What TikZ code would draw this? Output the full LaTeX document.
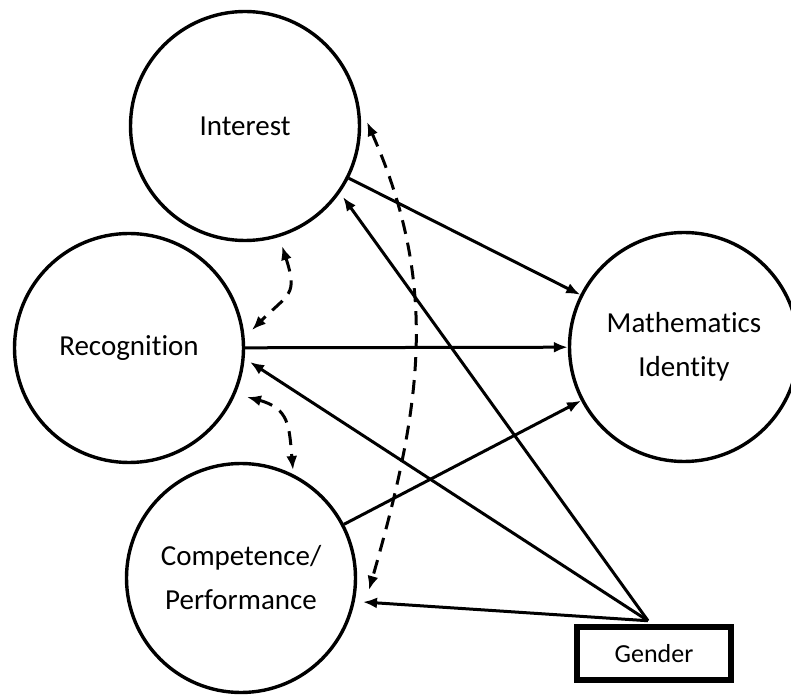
\documentclass[tikz,border=0pt]{standalone}
\usepackage{fontspec}
\setmainfont{Carlito}[Ligatures={NoCommon}]
\usetikzlibrary{arrows.meta}
\begin{document}
\begin{tikzpicture}[x=1pt,y=1pt,
  >={Latex[length=14pt,width=11pt]},
  latent/.style={draw,circle,line width=3.4pt,minimum size=229pt,inner sep=0pt,
    align=center,font=\fontsize{29}{44}\selectfont},
  effect/.style={->,line width=3pt},
  cov/.style={<->,line width=3pt,dash pattern=on 14pt off 9pt},
  gbox/.style={draw,rectangle,line width=6.5pt,minimum width=154pt,
    minimum height=53pt,inner sep=0pt,font=\fontsize{26}{30}\selectfont}]
\clip (0,0) rectangle (791,696);
\fill[white] (0,0) rectangle (791,696);

\node[latent] (I) at (245,570) {Interest};
\node[latent] (R) at (129,348) {Recognition};
\node[latent] (C) at (241,118) {Competence/\\Performance};
\node[latent] (M) at (684,349) {Mathematics\\Identity};
\node[gbox] (G) at (654,42.5) {Gender};

% direct effects on identity
\draw[effect] (I) -- (M);
\draw[effect] (R) -- (M);
\draw[effect] (C) -- (M);

% gender effects
\draw[effect] ([shift={(-6,3)}]G.north) -- ([shift={(98,-71)}]I.center);
\draw[effect] ([shift={(-6,3)}]G.north) -- ([shift={(121,-14)}]R.center);
\draw[effect] ([shift={(-6,3)}]G.north) -- ([shift={(122,-24)}]C.center);

% covariances
\draw[cov] ([shift={(37,-120)}]I.center) to[out=-72,in=45,looseness=1.5]
  ([shift={(123,18)}]R.center);
\draw[cov] ([shift={(118,-49)}]R.center) to[out=-15,in=95,looseness=1.3]
  ([shift={(52,108)}]C.center);
\draw[cov] ([shift={(122,4)}]I.center) to[out=-66,in=74]
  ([shift={(128,-12)}]C.center);
\end{tikzpicture}
\end{document}
